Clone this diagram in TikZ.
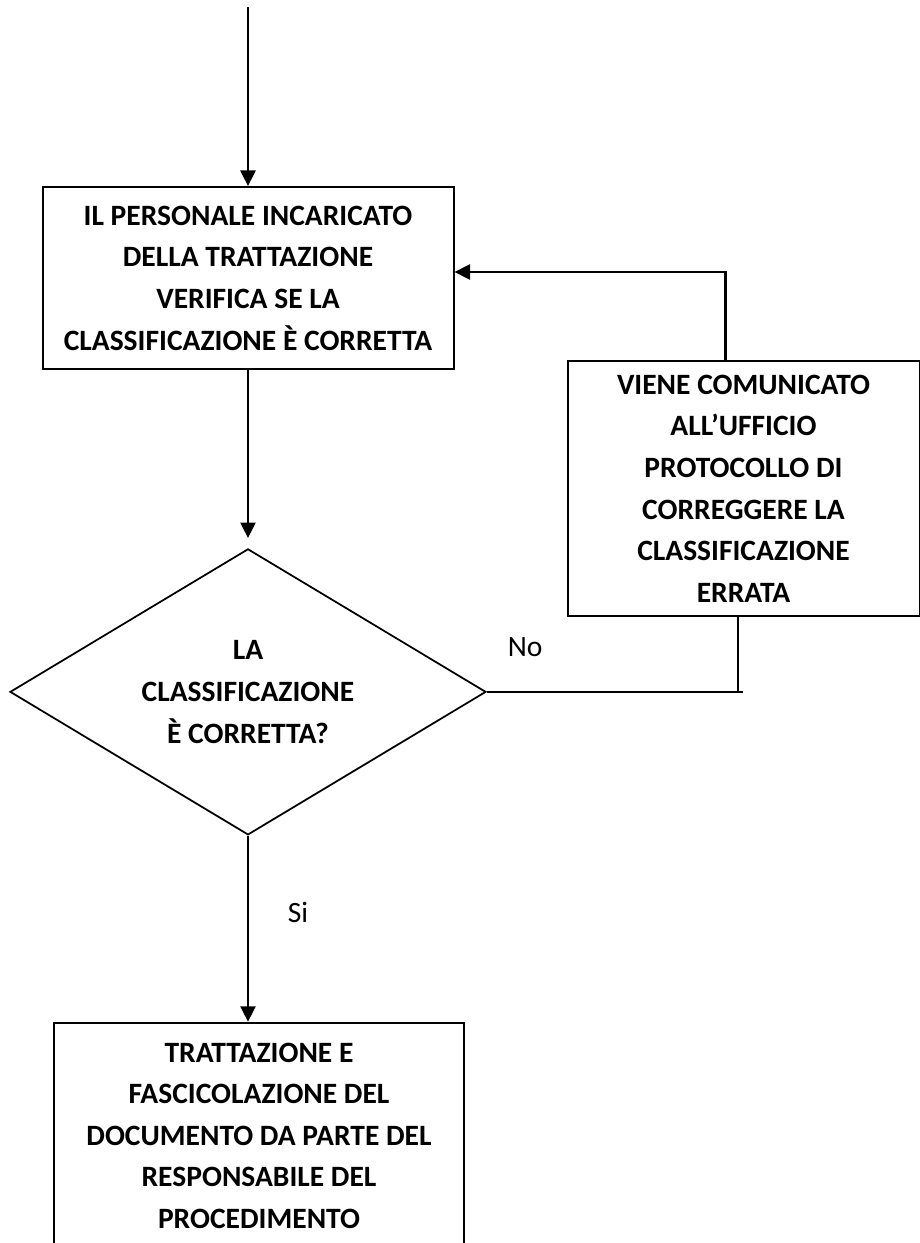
\documentclass[tikz,border=0pt]{standalone}
\usepackage{fontspec}
\setmainfont{Carlito}
\usetikzlibrary{arrows.meta,positioning,shapes.geometric}

\begin{document}
\begin{tikzpicture}[
every node/.style={font=\fontsize{16.8}{23.7}\selectfont},
procbox/.style={draw, line width=0.4mm, align=center, inner sep=0pt, font=\fontsize{16.8}{23.7}\selectfont\bfseries},
decision/.style={draw, diamond, line width=0.35mm, align=center, inner sep=0pt, aspect=1.66, minimum width=95.2mm, minimum height=57.2mm, font=\fontsize{16.8}{23.7}\selectfont\bfseries},
lbl/.style={inner sep=0pt},
arr/.style={-{Triangle[length=3.1mm,width=3mm]}, line width=0.5mm},
plain/.style={line width=0.4mm}
]
\useasboundingbox (0,0) rectangle (183.8mm,-248.6mm);

% checking step
\node[procbox, minimum width=82.2mm, minimum height=36.4mm] (check) at (49.6mm,-55.6mm) {IL PERSONALE INCARICATO\\DELLA TRATTAZIONE\\VERIFICA SE LA\\CLASSIFICAZIONE È CORRETTA};
\coordinate[above=35.8mm of check] (start);
\draw[arr] (start) -- (check);

% decision
\node[decision, below=35.6mm of check] (dia) {LA\\CLASSIFICAZIONE\\È CORRETTA?};
\draw[arr, shorten >=2mm] (check) -- (dia);

% correction request (No branch)
\node[procbox, minimum width=70.4mm, minimum height=51mm, right=22.4mm of check.south east, anchor=north west, yshift=2mm] (fix) {VIENE COMUNICATO\\ALL’UFFICIO\\PROTOCOLLO DI\\CORREGGERE LA\\CLASSIFICAZIONE\\ERRATA};
\coordinate (join) at ([xshift=-1.2mm]fix.south |- dia.east);
\draw[plain] (dia.east) -- node[lbl, pos=0.15, yshift=9mm] {No} ([xshift=1mm]join);
\draw[plain] ([xshift=-1.2mm]fix.south) -- (join);
\draw[arr] ([xshift=-3.6mm]fix.north) |- ([yshift=1.2mm]check.east);

% handling (Si branch)
\node[procbox, minimum width=82mm, minimum height=45.2mm, below=37.2mm of dia, xshift=2.2mm] (handle) {TRATTAZIONE E\\FASCICOLAZIONE DEL\\DOCUMENTO DA PARTE DEL\\RESPONSABILE DEL\\PROCEDIMENTO};
\draw[arr] (dia.south) -- node[lbl, pos=0.41, xshift=10mm] {Si} (dia.south |- handle.north);
\end{tikzpicture}
\end{document}
